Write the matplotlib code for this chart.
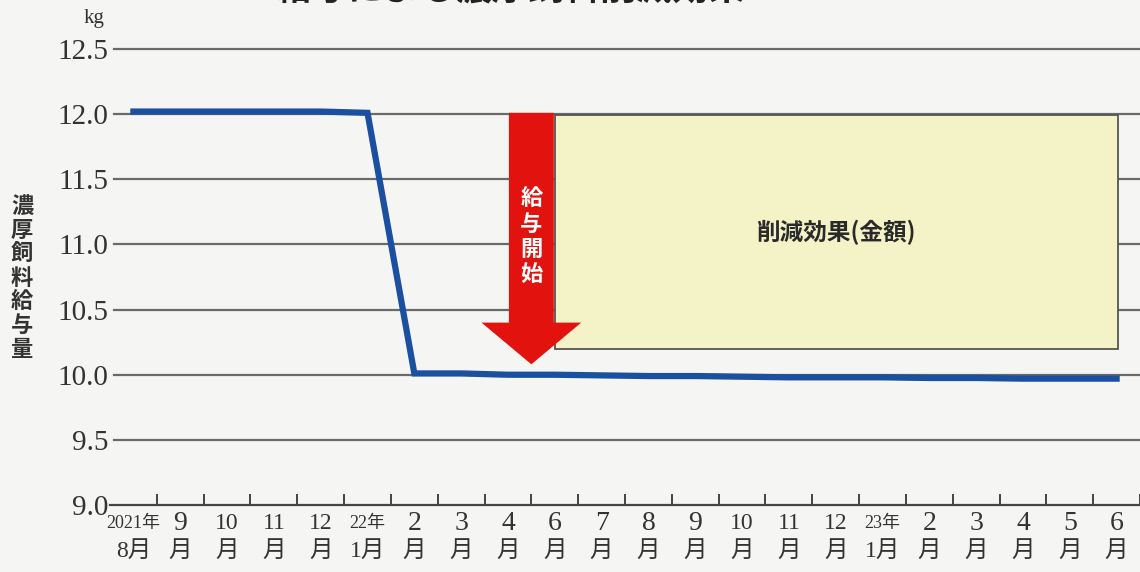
import matplotlib
matplotlib.use("Agg")
import matplotlib.pyplot as plt
from matplotlib.patches import Rectangle, FancyArrow
from matplotlib.ticker import FixedLocator

# --- data -------------------------------------------------------------
month_top = ["2021年", "9", "10", "11", "12", "22年", "2", "3", "4", "6", "7",
             "8", "9", "10", "11", "12", "23年", "2", "3", "4", "5", "6"]
month_bottom = ["8月", "月", "月", "月", "月", "1月", "月", "月", "月", "月", "月",
                "月", "月", "月", "月", "月", "1月", "月", "月", "月", "月", "月"]
feed_kg = [12.02, 12.02, 12.02, 12.02, 12.02, 12.01, 10.01, 10.01, 10.00, 10.00, 9.995,
           9.99, 9.99, 9.985, 9.98, 9.98, 9.98, 9.975, 9.975, 9.97, 9.97, 9.97]
y_ticks = [9.0, 9.5, 10.0, 10.5, 11.0, 11.5, 12.0, 12.5]
start_index = 8.5          # feeding start (between 4月 and 6月)
saving_top = 11.99
saving_bottom = 10.20
saving_end = 21.03

SERIF = ["Liberation Serif", "Noto Sans CJK JP", "DejaVu Sans"]
JP = ["Noto Sans CJK JP", "DejaVu Sans"]

fig = plt.figure(figsize=(11.4, 5.72), dpi=100)
fig.patch.set_facecolor("#f5f5f3")
ax = fig.add_axes([0.0965, 0.1171, 0.9035, 0.8086])
ax.set_facecolor("none")

x = list(range(len(feed_kg)))
ax.set_xlim(-0.5, 21.5)
ax.set_ylim(9.0, 12.55)

# horizontal rules
for yv in y_ticks[1:]:
    ax.axhline(yv, xmin=0.004, color="#6a6a6a", lw=1.6, zorder=1)

for s in ("top", "right", "left"):
    ax.spines[s].set_visible(False)
ax.spines["bottom"].set_color("#444444")
ax.spines["bottom"].set_linewidth(1.6)

# y axis ticks
ax.set_yticks(y_ticks)
ax.set_yticklabels([f"{v:.1f}" for v in y_ticks], family=SERIF, fontsize=21,
                   color="#333333")
ax.tick_params(axis="y", length=0, pad=1)

# x axis: small inward ticks at month boundaries, labels at month centres
ax.set_xticks([])
ax.xaxis.set_minor_locator(FixedLocator([i + 0.5 for i in range(len(x))]))
ax.tick_params(axis="x", which="minor", direction="in", length=8, width=1.4,
               color="#444444")

for i, (top, bot) in enumerate(zip(month_top, month_bottom)):
    small = "年" in top
    ax.annotate(top, xy=(i, 0), xycoords=ax.get_xaxis_transform(),
                xytext=(0, -18), textcoords="offset pixels",
                ha="center", va="center", family=SERIF,
                fontsize=13 if small else (17 if len(top) == 2 else 20),
                color="#333333", annotation_clip=False)
    ax.annotate(bot, xy=(i, 0), xycoords=ax.get_xaxis_transform(),
                xytext=(0, -46), textcoords="offset pixels",
                ha="center", va="center", family=SERIF, fontsize=17,
                color="#333333", annotation_clip=False)

# saving-effect box
box = Rectangle((start_index + 0.5, saving_bottom), saving_end - start_index - 0.5,
                saving_top - saving_bottom, facecolor="#f4f3c8",
                edgecolor="#555555", lw=1.3, zorder=2)
ax.add_patch(box)
ax.text((start_index + 0.5 + saving_end) / 2, (saving_top + saving_bottom) / 2,
        "削減効果(金額)", ha="center", va="center", family=JP,
        fontsize=17, fontweight="bold", color="#2a2a2a", zorder=5)

# feed amount line
ax.plot(x, feed_kg, color="#1b4f9f", lw=4.5, solid_joinstyle="miter", zorder=4)

# feeding-start arrow
arrow_tip = 10.08
ax.add_patch(FancyArrow(start_index, 12.01, 0, arrow_tip - 12.01, width=0.96,
                        head_width=2.13, head_length=0.32,
                        length_includes_head=True, facecolor="#e2130f",
                        edgecolor="none", zorder=6))
ax.text(start_index, 11.06, "\n".join("給与開始"), ha="center", va="center",
        family=JP, fontsize=16, fontweight="bold", color="white",
        linespacing=1.12, zorder=7)

# unit and axis title
fig.text(94 / 1140, 1 - 19 / 572, "kg", ha="center", va="center",
         family=SERIF, fontsize=15, color="#333333")
fig.text(22 / 1140, 1 - 278 / 572, "\n".join("濃厚飼料給与量"), ha="center",
         va="center", family=JP, fontsize=16, fontweight="bold",
         color="#333333", linespacing=1.04)

# figure title (runs off the top edge)
fig.text(745 / 1140, 1 + 10 / 572, "給与による濃厚飼料削減効果", ha="right",
         va="center", family=JP, fontsize=26, fontweight="bold",
         color="#222222")

fig.savefig("out.png", dpi=100, facecolor=fig.get_facecolor())
